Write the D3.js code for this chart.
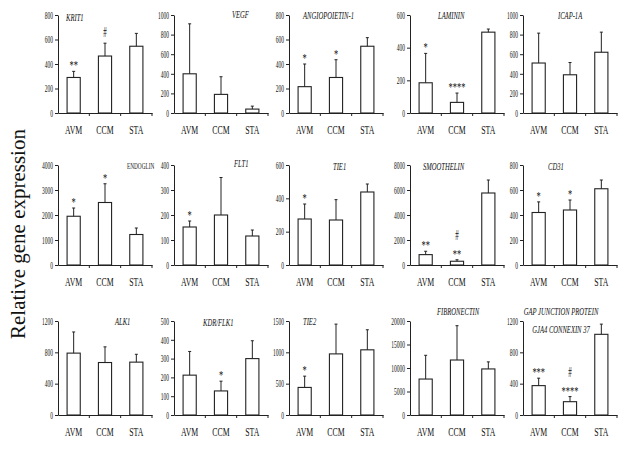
<!DOCTYPE html>
<html>
<head>
<meta charset="utf-8">
<script src="https://cdn.jsdelivr.net/npm/d3@7"></script>
<style>
  body { margin: 0; background: #fff; }
</style>
</head>
<body>
<div id="chart"></div>
<script>
const groups = ["AVM", "CCM", "STA"];

const genes = [
  "KRIT1", "VEGF", "ANGIOPOIETIN-1", "LAMININ", "ICAP-1A",
  "ENDOGLIN", "FLT1", "TIE1", "SMOOTHELIN", "CD31",
  "ALK1", "KDR/FLK1", "TIE2", "FIBRONECTIN", "GAP JUNCTION PROTEIN|GJA4 CONNEXIN 37"
];

// mean expression per group (AVM, CCM, STA)
const means = [
  [290, 465, 545], [400, 190, 40], [215, 290, 545], [185, 65, 495], [510, 390, 620],
  [1950, 2500, 1220], [152, 200, 116], [276, 270, 438], [830, 300, 5760], [420, 440, 610],
  [790, 670, 675], [212, 128, 300], [440, 975, 1040], [7650, 11700, 9800], [375, 170, 1030]
];

// top of the error bar per group
const errTops = [
  [340, 570, 650], [910, 370, 70], [400, 435, 615], [365, 122, 514], [815, 515, 825],
  [2280, 3250, 1480], [176, 350, 140], [366, 392, 486], [1100, 420, 6800], [505, 520, 680],
  [1060, 870, 775], [338, 180, 395], [620, 1450, 1360], [12700, 19000, 11300], [470, 235, 1160]
];

const yMax = [800, 1000, 800, 600, 1000, 4000, 400, 600, 8000, 800, 1200, 500, 1500, 20000, 1200];
const yStep = [200, 200, 200, 200, 200, 1000, 100, 200, 2000, 200, 400, 100, 500, 5000, 400];

// significance marks, listed top to bottom
const marks = [
  [["**"], ["#"], []], [[], [], []], [["*"], ["*"], []], [["*"], ["****"], []], [[], [], []],
  [["*"], ["*"], []], [["*"], [], []], [["*"], [], []], [["**"], ["#", "**"], []], [["*"], ["*"], []],
  [[], [], []], [[], ["*"], []], [["*"], [], []], [[], [], []], [["***"], ["#", "****"], []]
];

// layout
const W = 626, H = 450;
const serif = "'Liberation Serif', 'DejaVu Serif', serif";
const ink = "#222";
const squeeze = 0.6;
const colX = [58, 174, 289, 410, 523];
const rowY = [[15, 113], [165, 265], [321, 415]];
const titleDx = [8, 58, 14, 28, 35, 69, 60, 44, 13, 25, 57, 29, 14, 27, 38];
const titleDy = [6, 3, 4, 4, 4, 4, 2, 5, 5, 5, 4, 5, 4, -6, -6];

const svg = d3.select("#chart")
  .append("svg")
  .attr("width", W)
  .attr("height", H)
  .attr("viewBox", [0, 0, W, H]);

svg.append("text")
  .attr("transform", "translate(25,234) rotate(-90)")
  .attr("text-anchor", "middle")
  .attr("font-family", serif)
  .attr("font-size", 21)
  .attr("fill", "#111")
  .text("Relative gene expression");

genes.forEach((gene, i) => {
  const col = i % 5, row = Math.floor(i / 5);
  const X = colX[col];
  const [top, bottom] = rowY[row];
  const g = svg.append("g");

  const x = d3.scaleBand()
    .domain(groups)
    .range([X, X + 94])
    .paddingInner(0.58)
    .paddingOuter(0.29);

  const y = d3.scaleLinear()
    .domain([0, yMax[i]])
    .range([bottom, top]);

  // y axis
  const ya = g.append("g")
    .attr("transform", `translate(${X},0)`)
    .call(d3.axisLeft(y)
      .tickValues(d3.range(0, yMax[i] + 1, yStep[i]))
      .tickFormat(d3.format("d"))
      .tickSize(3)
      .tickSizeOuter(0));
  ya.select(".domain").attr("stroke", ink);
  ya.selectAll(".tick line").attr("stroke", ink);
  ya.selectAll(".tick text")
    .attr("font-family", serif)
    .attr("font-size", 10)
    .attr("fill", "#111")
    .attr("x", -5 / 0.55)
    .attr("transform", "scale(0.55,1)");

  // x axis
  const xa = g.append("g")
    .attr("transform", `translate(0,${bottom})`)
    .call(d3.axisBottom(x).tickSize(0).tickSizeOuter(0).tickPadding(12));
  xa.select(".domain").attr("stroke", ink);
  xa.selectAll(".tick text")
    .attr("font-family", serif)
    .attr("font-size", 13)
    .attr("fill", "#111")
    .attr("transform", `scale(${squeeze},1)`);

  const step = x.step();
  const sep = groups.slice(1).map(d => x(d) - step * x.paddingInner() / 2).concat([X + 94]);
  g.selectAll(".sep")
    .data(sep)
    .join("line")
    .attr("x1", d => d).attr("x2", d => d)
    .attr("y1", bottom).attr("y2", bottom + 3)
    .attr("stroke", ink);

  // bars
  const bw = x.bandwidth();
  g.selectAll(".bar")
    .data(groups)
    .join("rect")
    .attr("x", d => x(d))
    .attr("y", (d, j) => y(means[i][j]))
    .attr("width", bw)
    .attr("height", (d, j) => bottom - y(means[i][j]))
    .attr("fill", "#fff")
    .attr("stroke", ink)
    .attr("stroke-width", 1.1);

  // error bars
  g.selectAll(".err")
    .data(groups)
    .join("line")
    .attr("x1", d => x(d) + bw / 2).attr("x2", d => x(d) + bw / 2)
    .attr("y1", (d, j) => y(means[i][j]))
    .attr("y2", (d, j) => y(errTops[i][j]))
    .attr("stroke", ink);
  g.selectAll(".cap")
    .data(groups)
    .join("line")
    .attr("x1", d => x(d) + bw / 2 - 1.5).attr("x2", d => x(d) + bw / 2 + 1.5)
    .attr("y1", (d, j) => y(errTops[i][j]))
    .attr("y2", (d, j) => y(errTops[i][j]))
    .attr("stroke", ink);

  // significance marks
  groups.forEach((grp, j) => {
    const list = marks[i][j];
    const cx = x(grp) + bw / 2;
    const y0 = y(errTops[i][j]);
    list.slice().reverse().forEach((m, k) => {
      const isHash = m === "#";
      g.append("text")
        .attr("transform", `translate(${cx},${y0 - (isHash ? 6 : 2) - k * 14}) scale(0.7,${isHash ? 1.4 : 1})`)
        .attr("text-anchor", "middle")
        .attr("font-family", serif)
        .attr("font-size", isHash ? 10 : 12)
        .attr("fill", "#111")
        .text(m);
    });
  });

  // title
  const lines = gene.split("|");
  const multi = lines.length > 1;
  const upright = gene === "ENDOGLIN";
  lines.forEach((t, k) => {
    g.append("text")
      .attr("transform", `translate(${X + titleDx[i]},${top + titleDy[i] + k * 18}) scale(0.66,1)`)
      .attr("text-anchor", multi ? "middle" : "start")
      .attr("font-family", serif)
      .attr("font-style", upright ? "normal" : "italic")
      .attr("font-size", upright ? 8 : 10)
      .attr("fill", "#111")
      .text(t);
  });
});
</script>
</body>
</html>
